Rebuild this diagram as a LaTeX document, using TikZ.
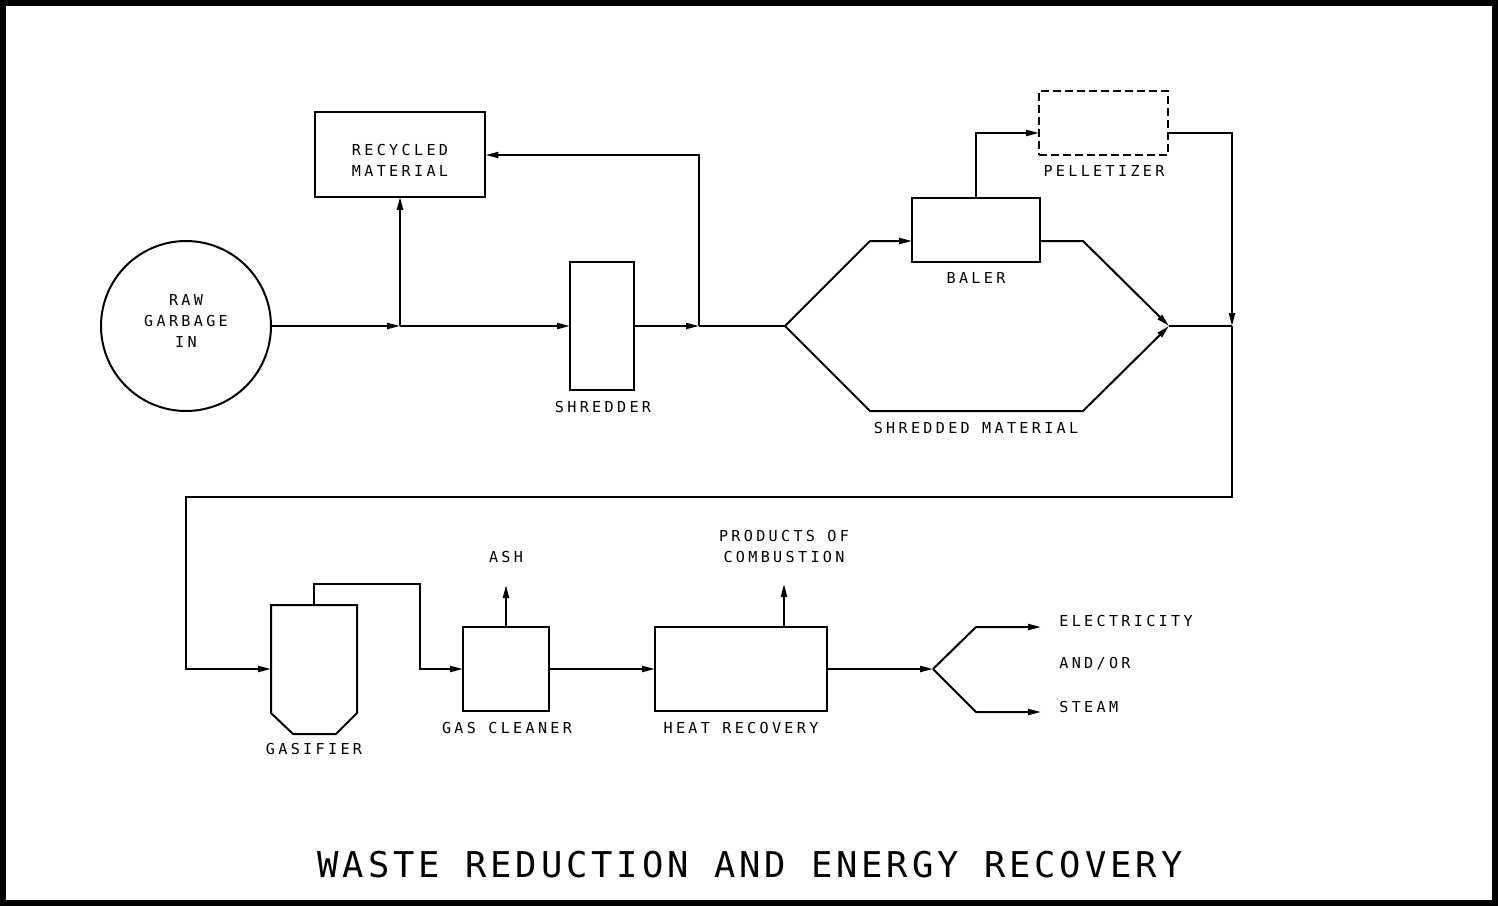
\documentclass[tikz,border=0pt]{standalone}
\usepackage{fontspec}
\usetikzlibrary{arrows.meta}
\newfontfamily\cadfont[LetterSpace=22]{DejaVu Sans Mono}
\newfontfamily\cadtitle[LetterSpace=11]{DejaVu Sans Mono}
\tikzset{
  ln/.style={line width=0.04cm},
  fl/.style={ln,-{Triangle[length=0.26cm,width=0.12cm]}},
  box/.style={draw,ln,rectangle,inner sep=0pt,outer sep=0pt},
  lbl/.style={inner sep=0pt,font=\cadfont\fontsize{8.6}{11.9}\selectfont,align=center},
}
\begin{document}
\begin{tikzpicture}[x=0.02cm,y=-0.02cm]
\useasboundingbox (0,0) rectangle (1498,906);
\draw[line width=0.12cm] (3,3) rectangle (1495,903);
% nodes
\node[draw,ln,circle,minimum size=3.4cm,inner sep=0pt,outer sep=0pt] (raw) at (186,326) {};
\node[lbl] (rawt) at (186,321) {RAW\\GARBAGE\\IN};
\node[box,minimum width=3.42cm,minimum height=1.7cm] (recyc) at (400,154.5) {};
\node[lbl] (recyct) at (400,160.5) {RECYCLED\\MATERIAL};
\node[box,minimum width=1.28cm,minimum height=2.56cm] (shred) at (602,326) {};
\node[lbl] (shredt) at (603,407) {SHREDDER};
\node[box,minimum width=2.56cm,minimum height=1.28cm] (baler) at (976,230) {};
\node[lbl] (balert) at (976,278) {BALER};
\node[box,dashed,dash pattern=on 0.16cm off 0.08cm,minimum width=2.58cm,minimum height=1.28cm] (pellet) at (1103.5,123) {};
\node[lbl] (pellett) at (1104,171) {PELLETIZER};
\node[lbl] (shmat) at (976,428) {SHREDDED MATERIAL};
\node[minimum width=1.72cm,minimum height=2.58cm,inner sep=0pt,outer sep=0pt] (gasif) at (314,669.5) {};
\draw[ln,line join=miter] (271,605) -- (271,713) -- (293,734) -- (336,734) -- (357,713) -- (357,605) -- cycle;
\node[lbl] (gasift) at (314,749) {GASIFIER};
\node[box,minimum width=1.72cm,minimum height=1.7cm] (gascl) at (506,669) {};
\node[lbl] (gasclt) at (507,728) {GAS CLEANER};
\node[box,minimum width=3.44cm,minimum height=1.7cm] (heat) at (741,669) {};
\node[lbl] (heatt) at (741,728) {HEAT RECOVERY};
\node[lbl] (ash) at (506,557) {ASH};
\node[lbl] (poc) at (784,546.5) {PRODUCTS OF\\COMBUSTION};
\node[lbl,anchor=west] (elec) at (1059,621) {ELECTRICITY};
\node[lbl,anchor=west] (andor) at (1059,664) {AND/OR};
\node[lbl,anchor=west] (steam) at (1059,707) {STEAM};
\node[inner sep=0pt,font=\cadtitle\fontsize{20.2}{24}\selectfont] (title) at (750,865) {WASTE REDUCTION AND ENERGY RECOVERY};
% coordinates
\coordinate (j1) at (400,326);
\coordinate (j2) at (699,326);
\coordinate (j2u) at (699,155);
\coordinate (split) at (785,326);
\coordinate (t1) at (870,241);
\coordinate (b1) at (870,411);
\coordinate (b2) at (1083,411);
\coordinate (t2) at (1083,241);
\coordinate (merge) at (1169,326);
\coordinate (bup) at (976,133);
\coordinate (pr) at (1232,133);
\coordinate (j3) at (1232,326);
\coordinate (c1) at (1232,497);
\coordinate (c2) at (186,497);
\coordinate (c3) at (186,669);
\coordinate (g1) at (314,584);
\coordinate (g2) at (420,584);
\coordinate (g3) at (420,669);
\coordinate (ashend) at (506,585);
\coordinate (hn) at (784,626.5);
\coordinate (pocend) at (784,584);
\coordinate (hs) at (933,669);
\coordinate (e1) at (976,627);
\coordinate (e2) at (1041,627);
\coordinate (s1) at (976,712);
\coordinate (s2) at (1041,712);
% connectors
\draw[fl] (raw.east) -- (j1);
\draw[fl] (j1) -- (shred.west |- j1);
\draw[fl] (j1) -- (recyc.south);
\draw[fl] (shred.east |- j2) -- (j2);
\draw[ln] (j2) -- (split);
\draw[fl] (j2) -- (j2u) -- (recyc.east |- j2u);
\draw[fl] (split) -- (t1) -- (baler.west |- t1);
\draw[fl] (baler.east |- t2) -- (t2) -- (merge);
\draw[fl] (split) -- (b1) -- (b2) -- (merge);
\draw[fl] (baler.north) -- (bup) -- (pellet.west |- bup);
\draw[fl] (pellet.east |- pr) -- (pr) -- (j3);
\draw[ln] (merge) -- (j3);
\draw[fl] (j3) -- (c1) -- (c2) -- (c3) -- (gasif.west |- c3);
\draw[fl] (gasif.north) -- (g1) -- (g2) -- (g3) -- (gascl.west |- g3);
\draw[fl] (gascl.north) -- (ashend);
\draw[fl] (gascl.east) -- (heat.west);
\draw[fl] (hn) -- (pocend);
\draw[fl] (heat.east) -- (hs);
\draw[fl] (hs) -- (e1) -- (e2);
\draw[fl] (hs) -- (s1) -- (s2);
\end{tikzpicture}
\end{document}
